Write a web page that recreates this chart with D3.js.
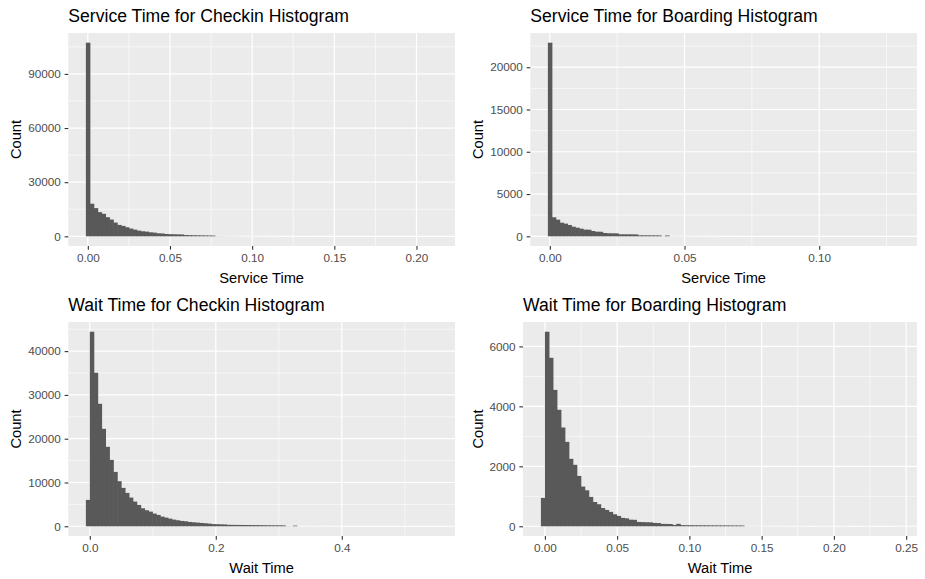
<!DOCTYPE html>
<html>
<head>
  <meta charset="UTF-8">
  <script src="https://d3js.org/d3.v7.min.js"></script>
  <title>Service and Wait Time Histograms</title>
  <style type="text/css">
    html, body { margin:0; padding:0; background:#fff; }
    svg text { font-family: "Liberation Sans", Arial, sans-serif; }
  </style>
</head>
<body>
<div id="chart"></div>
<script>
  // ---- data (90 bins per histogram) ----
  var titles = ["Service Time for Checkin Histogram", "Service Time for Boarding Histogram",
                "Wait Time for Checkin Histogram", "Wait Time for Boarding Histogram"];
  var xTitles = ["Service Time", "Service Time", "Wait Time", "Wait Time"];

  var binWidths = [0.002377, 0.00145, 0.0062, 0.002754];
  // left edge of the first bin, in bin widths (service bins are centred on 0)
  var binOffsets = [-0.5, -0.5, -1, -1];

  var checkinService = [
    107300, 18060, 15640, 13400, 12480, 10610, 9310, 7630, 6330, 5770,
    5030, 4280, 3720, 3170, 2790, 2600, 2230, 2050, 1680, 1580,
    1300, 1200, 1130, 1080, 1030, 700, 650, 600, 560, 520,
    480, 450, 420, 80, 70, 62, 55, 48, 42, 37,
    33, 29, 26, 23, 20, 18, 16, 14, 12, 11,
    10, 9, 8, 7, 6, 6, 5, 5, 4, 4,
    3, 3, 3, 2, 2, 2, 2, 1, 1, 1,
    1, 1, 1, 1, 0, 1, 0, 1, 0, 0,
    1, 0, 0, 0, 1, 0, 0, 0, 0, 1];

  var boardingService = [
    22900, 2250, 1970, 1615, 1500, 1340, 1140, 1020, 905, 790,
    780, 630, 550, 540, 395, 360, 355, 350, 240, 236,
    232, 228, 225, 120, 118, 115, 112, 110, 105, 15,
    100, 12, 10, 9, 8, 7, 6, 5, 5, 4,
    4, 3, 3, 3, 2, 2, 2, 2, 1, 1,
    1, 1, 1, 1, 0, 1, 0, 1, 0, 0,
    1, 0, 0, 1, 0, 0, 0, 0, 1, 0,
    0, 0, 0, 0, 1, 0, 0, 0, 0, 0,
    0, 1, 0, 0, 0, 0, 0, 0, 0, 1];

  var checkinWait = [
    6020, 44430, 35050, 27970, 22250, 18140, 15160, 12420, 10290, 8760,
    7620, 6550, 5640, 4880, 4110, 3660, 3350, 2900, 2590, 2210,
    1980, 1750, 1520, 1370, 1220, 1140, 990, 910, 840, 760,
    690, 610, 500, 470, 440, 420, 330, 320, 310, 300,
    290, 280, 270, 260, 250, 240, 230, 220, 215, 210,
    205, 30, 20, 150, 10, 8, 6, 5, 4, 4,
    3, 3, 2, 2, 2, 1, 1, 1, 1, 1,
    0, 1, 0, 1, 0, 0, 1, 0, 0, 0,
    1, 0, 0, 0, 0, 1, 0, 0, 0, 1];

  var boardingWait = [
    946, 6490, 5620, 4550, 3885, 3295, 2815, 2250, 2050, 1680,
    1325, 1200, 980, 810, 735, 610, 545, 480, 400, 345,
    280, 265, 220, 215, 145, 140, 135, 130, 112, 108,
    80, 78, 75, 45, 80, 38, 36, 35, 34, 33,
    32, 31, 30, 30, 29, 28, 28, 27, 26, 25,
    25, 3, 2, 2, 2, 1, 1, 1, 1, 1,
    1, 0, 1, 0, 1, 0, 1, 0, 0, 1,
    0, 0, 1, 0, 0, 0, 1, 0, 0, 0,
    0, 1, 0, 0, 0, 0, 0, 0, 0, 1];

  var xTickValues = [
    [0, 0.05, 0.10, 0.15, 0.20],
    [0, 0.05, 0.10],
    [0, 0.2, 0.4],
    [0, 0.05, 0.10, 0.15, 0.20, 0.25]];
  var yTickValues = [
    [0, 30000, 60000, 90000],
    [0, 5000, 10000, 15000, 20000],
    [0, 10000, 20000, 30000, 40000],
    [0, 2000, 4000, 6000]];
  var xFormats = [".2f", ".2f", ".1f", ".2f"];

  var allCounts = [checkinService, boardingService, checkinWait, boardingWait];

  // ---- layout ----
  var svgWidth = 925, svgHeight = 579;
  var boxes = [
    {ox: 0,     left: 68.3,  right: 455, top: 33,  bottom: 246},
    {ox: 462.5, left: 530.3, right: 917, top: 33,  bottom: 246},
    {ox: 0,     left: 68.3,  right: 455, top: 322, bottom: 536},
    {ox: 462.5, left: 523,   right: 917, top: 322, bottom: 536}];

  var svg = d3.select("#chart").append("svg")
    .attr("width", svgWidth)
    .attr("height", svgHeight);

  function minorTicks(major, domain) {
    var step = major[1] - major[0];
    var out = [];
    var first = major[0] - step / 2;
    for (var v = first; v <= domain[1]; v += step) {
      if (v >= domain[0]) out.push(v);
    }
    return out;
  }

  for (var p = 0; p < 4; p++) {
    var b = boxes[p];
    var counts = allCounts[p];
    var w = binWidths[p];
    var start = binOffsets[p] * w;
    var end = start + counts.length * w;
    var xPad = (end - start) * 0.05;
    var yMax = d3.max(counts);

    var x = d3.scaleLinear()
      .domain([start - xPad, end + xPad])
      .range([b.left, b.right]);
    var y = d3.scaleLinear()
      .domain([-yMax * 0.05, yMax * 1.05])
      .range([b.bottom, b.top]);

    var g = svg.append("g");

    // panel background
    g.append("rect")
      .attr("x", b.left).attr("y", b.top)
      .attr("width", b.right - b.left).attr("height", b.bottom - b.top)
      .attr("fill", "#EBEBEB");

    // minor grid
    g.selectAll(".xminor").data(minorTicks(xTickValues[p], x.domain())).enter()
      .append("line")
      .attr("x1", function(d) { return x(d); }).attr("x2", function(d) { return x(d); })
      .attr("y1", b.top).attr("y2", b.bottom)
      .attr("stroke", "#fff").attr("stroke-width", 0.6);
    g.selectAll(".yminor").data(minorTicks(yTickValues[p], y.domain())).enter()
      .append("line")
      .attr("y1", function(d) { return y(d); }).attr("y2", function(d) { return y(d); })
      .attr("x1", b.left).attr("x2", b.right)
      .attr("stroke", "#fff").attr("stroke-width", 0.6);

    // major grid
    g.selectAll(".xmajor").data(xTickValues[p]).enter()
      .append("line")
      .attr("x1", function(d) { return x(d); }).attr("x2", function(d) { return x(d); })
      .attr("y1", b.top).attr("y2", b.bottom)
      .attr("stroke", "#fff").attr("stroke-width", 1.2);
    g.selectAll(".ymajor").data(yTickValues[p]).enter()
      .append("line")
      .attr("y1", function(d) { return y(d); }).attr("y2", function(d) { return y(d); })
      .attr("x1", b.left).attr("x2", b.right)
      .attr("stroke", "#fff").attr("stroke-width", 1.2);

    // bars (a little overlap so neighbouring bins join without seams)
    var bins = counts.map(function(c, i) {
      return {x0: start + i * w, x1: start + (i + 1) * w, count: c};
    }).filter(function(d) { return d.count > 0; });

    g.append("g")
      .selectAll(".bar").data(bins).enter()
      .append("rect")
      .attr("x", function(d) { return x(d.x0); })
      .attr("width", function(d) { return x(d.x1) - x(d.x0) + 0.6; })
      .attr("y", function(d) { return y(d.count); })
      .attr("height", function(d) { return y(0) - y(d.count); })
      .attr("fill", "#595959");

    // axes
    var xAxis = g.append("g")
      .attr("transform", "translate(0," + b.bottom + ")")
      .call(d3.axisBottom(x).tickValues(xTickValues[p])
        .tickFormat(d3.format(xFormats[p])).tickSize(3.67).tickPadding(4.3));
    var yAxis = g.append("g")
      .attr("transform", "translate(" + b.left + ",0)")
      .call(d3.axisLeft(y).tickValues(yTickValues[p])
        .tickFormat(d3.format("d")).tickSize(3.67).tickPadding(3.8));

    [xAxis, yAxis].forEach(function(a) {
      a.select(".domain").remove();
      a.selectAll(".tick line").attr("stroke", "#333333").attr("stroke-width", 1.1);
      a.selectAll(".tick text")
        .attr("fill", "#4D4D4D")
        .style("font-size", "11.73px")
        .style("font-family", "'Liberation Sans', Arial, sans-serif");
    });

    // titles
    g.append("text")
      .attr("x", b.left).attr("y", b.top - 11.2)
      .style("font-size", "17.6px")
      .attr("fill", "#000")
      .text(titles[p]);

    g.append("text")
      .attr("x", (b.left + b.right) / 2).attr("y", b.bottom + 36.7)
      .attr("text-anchor", "middle")
      .style("font-size", "14.67px")
      .attr("fill", "#000")
      .text(xTitles[p]);

    g.append("text")
      .attr("transform", "translate(" + (b.ox + 20.7) + "," + ((b.top + b.bottom) / 2) + ") rotate(-90)")
      .attr("text-anchor", "middle")
      .style("font-size", "14.67px")
      .attr("fill", "#000")
      .text("Count");
  }
</script>
</body>
</html>
